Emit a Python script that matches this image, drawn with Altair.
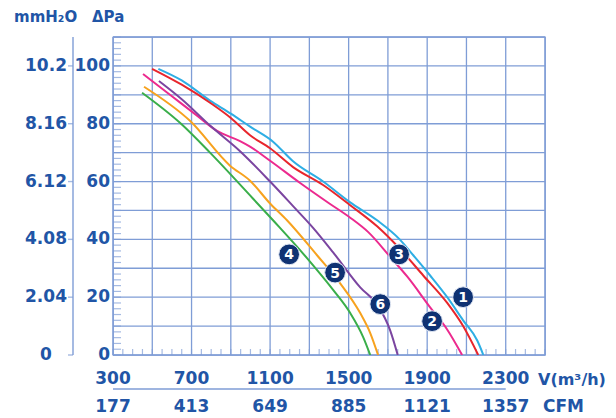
import altair as alt
import pandas as pd

# ---- data ----
names = ["1", "2", "3", "4", "5", "6"]
colors = ["#2eaee4", "#ec2a8e", "#e8262c", "#3aae4a", "#f7a21e", "#7b45a0"]

x1 = [531, 650, 794, 900, 998, 1115, 1217, 1370, 1508, 1645, 1760, 1829, 1915, 2002, 2083, 2155, 2186]
y1 = [99, 95, 88, 83.5, 79, 73.8, 67, 60, 52.8, 46.6, 40, 34.5, 27.5, 20, 12, 5, 0]

x2 = [453, 600, 728, 830, 947, 1000, 1100, 1253, 1400, 1508, 1600, 1711, 1800, 1915, 2000, 2078]
y2 = [97.2, 89.5, 82.8, 77.5, 74, 72, 67.2, 59.5, 52.5, 47.5, 42.5, 34, 27, 16.5, 9, 0]

x3 = [499, 650, 800, 900, 998, 1100, 1217, 1370, 1508, 1645, 1757, 1880, 2002, 2083, 2160]
y3 = [99, 93.5, 87, 82, 76, 71.5, 65, 58.8, 51.8, 44.5, 37, 27.5, 18, 10, 0]

x4 = [448, 641, 794, 998, 1115, 1288, 1421, 1508, 1574, 1610]
y4 = [90.7, 80.3, 70, 55.2, 46.6, 33.5, 22.5, 14.5, 6.2, 0]

x5 = [458, 692, 896, 998, 1100, 1186, 1339, 1457, 1559, 1610, 1650]
y5 = [92.8, 81, 65.5, 60.3, 52.4, 46.6, 34.5, 24.8, 14.5, 7.6, 0]

x6 = [534, 650, 800, 947, 1100, 1217, 1319, 1421, 1559, 1650, 1711, 1750]
y6 = [94.8, 88.5, 79, 70.5, 60, 51.5, 44, 35.5, 23.4, 17, 8.6, 0]

badge_x = [2083, 1925, 1757, 1197, 1431, 1661]
badge_y = [20, 11.7, 34.8, 34.8, 28.5, 17.6]

flow_ticks = [300, 700, 1100, 1500, 1900, 2300]
cfm_labels = ["177", "413", "649", "885", "1121", "1357"]
pa_ticks = [0, 20, 40, 60, 80, 100]
pa_labels = ["0", "20", "40", "60", "80", "100"]
mm_labels = ["0", "2.04", "4.08", "6.12", "8.16", "10.2"]
grid_x = list(range(300, 2501, 200))
grid_y = list(range(0, 111, 10))
x_range = [300, 2500]
y_range = [0, 110]

# ---- styling ----
TXT = "#2155a6"
GRID = "#7f9dd6"
FONT = "DejaVu Sans"
FS = 17
FW = "bold"

rows = []
for n, xs, ys in zip(names, [x1, x2, x3, x4, x5, x6], [y1, y2, y3, y4, y5, y6]):
    for a, b in zip(xs, ys):
        rows.append({"s": n, "q": a, "p": b})
df_lines = pd.DataFrame(rows)
df_badges = pd.DataFrame({"s": names, "q": badge_x, "p": badge_y})

xscale = alt.Scale(domain=x_range, nice=False, zero=False)
yscale = alt.Scale(domain=y_range, nice=False, zero=True)

X = lambda f: alt.X(f, type="quantitative", scale=xscale, axis=None)
Y = lambda f: alt.Y(f, type="quantitative", scale=yscale, axis=None)

# grid lines
vgrid = alt.Chart(pd.DataFrame({"q": grid_x})).mark_rule(color=GRID, strokeWidth=1.3).encode(x=X("q"))
hgrid = alt.Chart(pd.DataFrame({"p": grid_y})).mark_rule(color=GRID, strokeWidth=1.3).encode(y=Y("p"))

lines = alt.Chart(df_lines).mark_line(interpolate="monotone", strokeWidth=2, clip=True).encode(
    x=X("q"), y=Y("p"),
    color=alt.Color("s:N", scale=alt.Scale(domain=names, range=colors), legend=None),
)

# minor ticks inside plot
lp = list(range(0, 111, 2))
left_ticks = alt.Chart(pd.DataFrame({"q": [x_range[0]] * len(lp), "p": lp})).mark_tick(
    orient="horizontal", size=8, thickness=1.2, color=GRID, xOffset=4
).encode(x=X("q"), y=Y("p"))

bq = list(range(300, 2501, 50))
bottom_ticks = alt.Chart(pd.DataFrame({"q": bq, "p": [0] * len(bq)})).mark_tick(
    orient="vertical", size=6, thickness=1.2, color=GRID, yOffset=-3
).encode(x=X("q"), y=Y("p"))

# bottom labels (two rows)
df_xl = pd.DataFrame({"q": flow_ticks, "t": [str(v) for v in flow_ticks], "c": cfm_labels})
xl1 = alt.Chart(df_xl).mark_text(align="center", baseline="middle", font=FONT, fontSize=FS,
                                 fontWeight=FW, color=TXT).encode(x=X("q"), y=alt.value(342), text="t:N")
xl2 = alt.Chart(df_xl).mark_text(align="center", baseline="middle", font=FONT, fontSize=FS,
                                 fontWeight=FW, color=TXT).encode(x=X("q"), y=alt.value(370), text="c:N")
cfm_rule = alt.Chart(pd.DataFrame({"a": [flow_ticks[0]], "b": [flow_ticks[-1]]})).mark_rule(
    color=GRID, strokeWidth=1.3
).encode(x=X("a"), x2="b:Q", y=alt.value(352))

# left labels (Pa and mmH2O)
df_yl = pd.DataFrame({"p": pa_ticks, "t": pa_labels, "m": mm_labels, "q": [x_range[0]] * len(pa_ticks)})
pa_text = alt.Chart(df_yl).mark_text(align="right", baseline="middle", font=FONT, fontSize=FS,
                                     fontWeight=FW, color=TXT).encode(x=alt.value(-3), y=Y("p"), text="t:N")
mm_line = alt.Chart(pd.DataFrame({"a": [y_range[0]], "b": [y_range[1]]})).mark_rect(
    color=GRID, opacity=1).encode(x=alt.value(-40.7), x2=alt.value(-39.3), y=Y("a"), y2="b:Q")
mm_ticks = alt.Chart(df_yl).mark_tick(orient="horizontal", size=5, thickness=1.4, color=GRID,
                                      xOffset=-42.5).encode(x=X("q"), y=Y("p"))
mm_text = alt.Chart(df_yl).mark_text(align="center", baseline="middle", font=FONT, fontSize=FS,
                                     fontWeight=FW, color=TXT).encode(x=alt.value(-67), y=Y("p"), text="m:N")

badges = alt.Chart(df_badges).mark_circle(size=430, opacity=1, color="#0f3273",
                                          stroke="#dfe6f3", strokeWidth=1).encode(x=X("q"), y=Y("p"))
badge_txt = alt.Chart(df_badges).mark_text(color="white", font=FONT, fontSize=14,
                                           fontWeight="bold", baseline="middle", dy=1).encode(
    x=X("q"), y=Y("p"), text="s:N")

def free_text(t, x, y, size):
    return alt.Chart(pd.DataFrame({"t": [t]})).mark_text(
        align="left", baseline="middle", font=FONT, fontSize=size, fontWeight=FW, color=TXT
    ).encode(text="t:N", x=alt.value(x), y=alt.value(y))

texts = [
    free_text("mmH\u2082O", -99, -20, 15),
    free_text("\u0394Pa", -21, -20, 15),
    free_text("V(m\u00b3/h)", 425, 343, 16),
    free_text("CFM", 430, 370, FS),
]

chart = alt.layer(vgrid, hgrid, left_ticks, bottom_ticks, lines, badges, badge_txt,
                  xl1, xl2, cfm_rule, pa_text, mm_line, mm_ticks, mm_text, *texts).properties(
    width=432, height=318,
    autosize=alt.AutoSizeParams(type="none"),
    padding={"left": 105, "top": 29, "right": 63, "bottom": 60},
    background="white",
).configure_view(stroke=GRID, strokeWidth=1.3)

chart.save("out.html", embed_options={"renderer": "svg", "actions": False})
